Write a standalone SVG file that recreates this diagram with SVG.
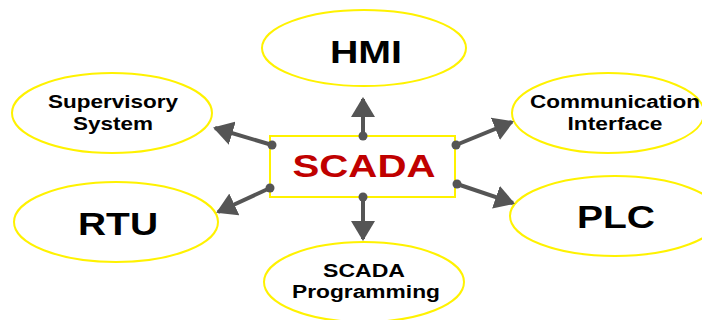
<svg xmlns="http://www.w3.org/2000/svg" width="702" height="320" viewBox="0 0 702 320">
<defs>
<style>
.n{fill:#fff;stroke:#fff200;stroke-width:2}
.t{font-family:"Liberation Sans",Arial,sans-serif;font-weight:bold;fill:#000;text-anchor:middle}
.s{font-size:18px}
.b{font-size:32px}
.c{stroke:#555;stroke-width:4;fill:none}
.d{fill:#555}
</style>
<marker id="ah" markerWidth="6" markerHeight="6" refX="4.5" refY="3" orient="auto" markerUnits="strokeWidth">
<path d="M0,0 L5,3 L0,6 Z" fill="#555"/>
</marker>
</defs>
<rect width="702" height="320" fill="#fff"/>
<g id="hmi"><ellipse class="n" cx="364" cy="48" rx="102" ry="38"/><text class="t b" x="366" y="63" textLength="72" lengthAdjust="spacingAndGlyphs">HMI</text></g>
<g id="supervisory"><ellipse class="n" cx="112" cy="113" rx="100" ry="40"/><text class="t s" x="113" y="108" textLength="130" lengthAdjust="spacingAndGlyphs">Supervisory</text><text class="t s" x="113" y="130" textLength="80" lengthAdjust="spacingAndGlyphs">System</text></g>
<g id="communication"><ellipse class="n" cx="608" cy="113" rx="96" ry="40"/><text class="t s" x="615" y="108" textLength="170" lengthAdjust="spacingAndGlyphs">Communication</text><text class="t s" x="615" y="130" textLength="95" lengthAdjust="spacingAndGlyphs">Interface</text></g>
<g id="rtu"><ellipse class="n" cx="116" cy="222" rx="102" ry="40"/><text class="t b" x="118" y="235" textLength="80" lengthAdjust="spacingAndGlyphs">RTU</text></g>
<g id="plc"><ellipse class="n" cx="615" cy="216" rx="105" ry="40"/><text class="t b" x="616" y="228" textLength="78" lengthAdjust="spacingAndGlyphs">PLC</text></g>
<g id="programming"><ellipse class="n" cx="364" cy="282" rx="100" ry="40"/><text class="t s" x="364" y="277" textLength="82" lengthAdjust="spacingAndGlyphs">SCADA</text><text class="t s" x="366" y="298" textLength="148" lengthAdjust="spacingAndGlyphs">Programming</text></g>
<g id="scada"><rect x="270" y="136" width="185" height="61" fill="#fff" stroke="#fff200" stroke-width="2"/><text x="364" y="177" font-family="Liberation Sans,Arial,sans-serif" font-weight="bold" font-size="31" fill="#c00000" text-anchor="middle" textLength="143" lengthAdjust="spacingAndGlyphs">SCADA</text></g>
<g id="connectors">
<line class="c" x1="363" y1="136" x2="363" y2="99" marker-end="url(#ah)"/>
<line class="c" x1="363" y1="197" x2="363" y2="239" marker-end="url(#ah)"/>
<line class="c" x1="272" y1="145" x2="215" y2="128" marker-end="url(#ah)"/>
<line class="c" x1="270" y1="188" x2="218" y2="212" marker-end="url(#ah)"/>
<line class="c" x1="456" y1="145" x2="512" y2="122" marker-end="url(#ah)"/>
<line class="c" x1="457" y1="184" x2="513" y2="203" marker-end="url(#ah)"/>
<circle class="d" cx="363" cy="136" r="4.5"/>
<circle class="d" cx="363" cy="197" r="4.5"/>
<circle class="d" cx="272" cy="145" r="4.5"/>
<circle class="d" cx="270" cy="188" r="4.5"/>
<circle class="d" cx="456" cy="145" r="4.5"/>
<circle class="d" cx="457" cy="184" r="4.5"/>
</g>
</svg>
